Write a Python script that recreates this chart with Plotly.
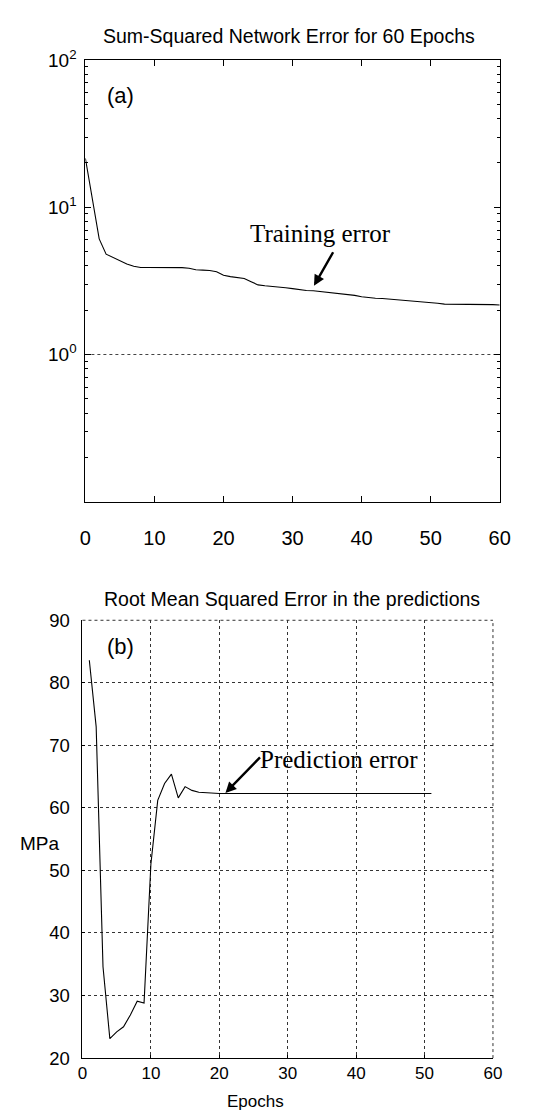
import plotly.graph_objects as go

# ---- data ----
# (a) sum-squared training error per epoch (log scale)
epochs_a = list(range(0, 61))
sse = [21.5, 11.5, 6.1, 4.8, 4.55, 4.3, 4.12, 3.98, 3.9, 3.9,
       3.9, 3.9, 3.9, 3.9, 3.89, 3.85, 3.76, 3.74, 3.72, 3.65,
       3.45, 3.38, 3.33, 3.28, 3.12, 2.97, 2.93, 2.91, 2.88, 2.84,
       2.80, 2.75, 2.72, 2.71, 2.68, 2.65, 2.62, 2.60, 2.56, 2.52,
       2.47, 2.43, 2.41, 2.40, 2.38, 2.35, 2.32, 2.30, 2.28, 2.27,
       2.25, 2.23, 2.20, 2.20, 2.20, 2.19, 2.19, 2.18, 2.18, 2.18,
       2.17]

# (b) RMS prediction error per epoch, MPa
epochs_b = list(range(1, 52))
rmse = [83.6, 73.0, 34.6, 23.1, 24.2, 25.0, 26.9, 29.1, 28.8, 51.0,
        61.2, 63.9, 65.4, 61.6, 63.4, 62.8, 62.5, 62.4, 62.3, 62.3,
        62.3, 62.3, 62.3, 62.3, 62.3, 62.3, 62.3, 62.3, 62.3, 62.3,
        62.3, 62.3, 62.3, 62.3, 62.3, 62.3, 62.3, 62.3, 62.3, 62.3,
        62.3, 62.3, 62.3, 62.3, 62.3, 62.3, 62.3, 62.3, 62.3, 62.3,
        62.3]

x_ticks = [0, 10, 20, 30, 40, 50, 60]
log_ticks = [1, 10, 100]
log_ticktext = ["10<sup>0</sup>", "10<sup>1</sup>", "10<sup>2</sup>"]
rmse_ticks = [20, 30, 40, 50, 60, 70, 80, 90]
unit_ref = 1  # 10^0 reference line in panel (a)

W, H = 533, 1120
SANS = "Liberation Sans, Arial, sans-serif"
SERIF = "Liberation Serif, Times New Roman, serif"


def px_x(p):
    return p / W


def px_y(p):
    return 1 - p / H


fig = go.Figure()

fig.add_trace(go.Scatter(
    x=[x_ticks[0], x_ticks[-1]], y=[unit_ref, unit_ref], mode="lines",
    line=dict(color="#444", width=1, dash="dot"),
    xaxis="x", yaxis="y", hoverinfo="skip", showlegend=False))
fig.add_trace(go.Scatter(
    x=epochs_a, y=sse, mode="lines", line=dict(color="black", width=1.1),
    xaxis="x", yaxis="y", showlegend=False))
fig.add_trace(go.Scatter(
    x=epochs_b, y=rmse, mode="lines", line=dict(color="black", width=1.1),
    xaxis="x2", yaxis="y2", showlegend=False))

minor_log = [m * d for d in (0.1, 1, 10) for m in range(2, 10)]

fig.update_layout(
    width=W, height=H,
    margin=dict(l=0, r=0, t=0, b=0),
    paper_bgcolor="white", plot_bgcolor="white",
    font=dict(family=SANS, color="black"),
    xaxis=dict(
        domain=[px_x(82), px_x(510)], anchor="y", range=[0, 60],
        tickvals=x_ticks, ticks="inside", ticklen=6, tickcolor="black",
        showline=True, linecolor="black", linewidth=1, mirror="ticks",
        showgrid=False, zeroline=False,
        tickfont=dict(size=20), ticklabelstandoff=18),
    yaxis=dict(
        domain=[px_y(499), px_y(48)], anchor="x", type="log", range=[-1, 2],
        tickvals=log_ticks, ticktext=log_ticktext,
        ticks="inside", ticklen=6, tickcolor="black",
        minor=dict(tickvals=minor_log, ticks="inside", ticklen=3,
                   tickcolor="black", showgrid=False),
        showline=True, linecolor="black", linewidth=1, mirror="ticks",
        showgrid=False, zeroline=False,
        tickfont=dict(size=19), ticklabelstandoff=4),
    xaxis2=dict(
        domain=[px_x(79), px_x(503)], anchor="y2", range=[0, 60],
        tickvals=x_ticks, ticks="inside", ticklen=3, tickcolor="black",
        showline=True, linecolor="black", linewidth=1,
        showgrid=True, gridcolor="#333", gridwidth=1, griddash="dot",
        zeroline=False, tickfont=dict(size=17), ticklabelstandoff=0),
    yaxis2=dict(
        domain=[px_y(1067), px_y(620)], anchor="x2", range=[20, 90],
        tickvals=rmse_ticks, ticks="inside", ticklen=3, tickcolor="black",
        showline=True, linecolor="black", linewidth=1,
        showgrid=True, gridcolor="#333", gridwidth=1, griddash="dot",
        zeroline=False, tickfont=dict(size=18.5), ticklabelstandoff=8),
)

# dotted frame edges of panel (b) where the end grid lines fall on the border
grid_edge = dict(color="#333", width=1, dash="dot")
fig.add_shape(type="line", xref="x2 domain", yref="y2 domain",
              x0=0, x1=1, y0=1, y1=1, line=grid_edge)
fig.add_shape(type="line", xref="x2 domain", yref="y2 domain",
              x0=1, x1=1, y0=0, y1=1, line=grid_edge)


def label(text, x, y, size, family=SANS):
    return dict(text=text, x=px_x(x), y=px_y(y), xref="paper", yref="paper",
                xanchor="center", yanchor="middle", showarrow=False,
                font=dict(family=family, size=size))


annotations = [
    # titles and axis labels
    label("Sum-Squared Network Error for 60 Epochs", 292, 23, 19.5),
    label("Root Mean Squared Error in the predictions", 295, 598, 19.5),
    label("MPa", 35, 848, 19),
    label("Epochs", 258, 1111, 17),
    # panel tags
    label("(a)", 118, 84, 22),
    label("(b)", 118, 647, 22),
    # curve callouts
    label("Training error", 325, 225, 25, SERIF),
    dict(text="", x=33.1, y=0.467, xref="x", yref="y", showarrow=True,
         ax=20, ay=-35, arrowhead=2, arrowsize=0.9, arrowwidth=2.4, arrowcolor="black"),
    label("Prediction error", 344, 762, 25, SERIF),
    dict(text="", x=20.9, y=62.4, xref="x2", yref="y2", showarrow=True,
         ax=36, ay=-37, arrowhead=2, arrowsize=0.9, arrowwidth=2.4, arrowcolor="black"),
]
fig.update_layout(annotations=annotations)

fig.write_html("out.html")
